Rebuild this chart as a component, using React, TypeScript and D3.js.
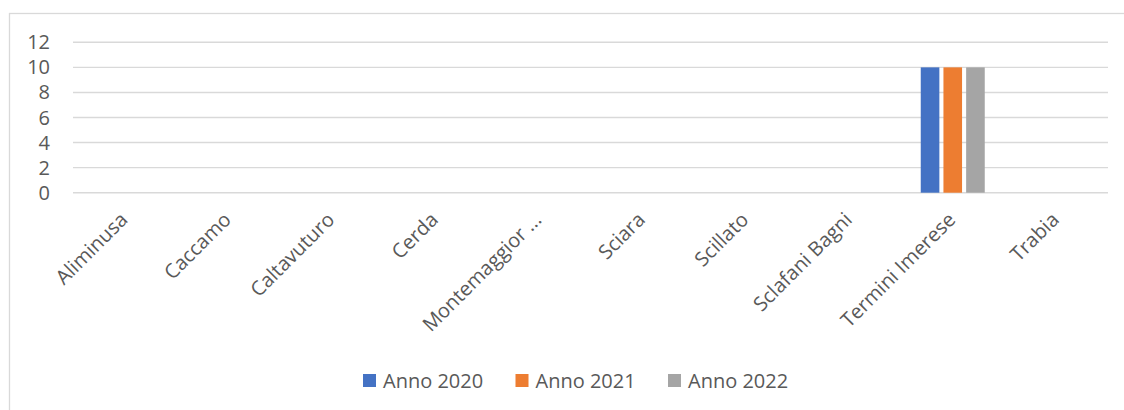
import React from "react";
import * as d3 from "d3";

const categories = [
  "Aliminusa",
  "Caccamo",
  "Caltavuturo",
  "Cerda",
  "Montemaggior ...",
  "Sciara",
  "Scillato",
  "Sclafani Bagni",
  "Termini Imerese",
  "Trabia",
];
const seriesNames = ["Anno 2020", "Anno 2021", "Anno 2022"];
const anno2020 = [0, 0, 0, 0, 0, 0, 0, 0, 10, 0];
const anno2021 = [0, 0, 0, 0, 0, 0, 0, 0, 10, 0];
const anno2022 = [0, 0, 0, 0, 0, 0, 0, 0, 10, 0];
const seriesValues = [anno2020, anno2021, anno2022];
const colors = ["#4472C4", "#ED7D31", "#A5A5A5"];
const yTicks = [0, 2, 4, 6, 8, 10, 12];

const W = 1124;
const H = 410;
const FONT = "'Open Sans', sans-serif";
const TEXT = "#595959";

export default function App() {
  const x = d3.scaleBand<string>().domain(categories).range([73, 1108]).padding(0);
  const y = d3.scaleLinear().domain([0, 12]).range([192.7, 42.3]);
  const groupW = 64;
  const inner = d3
    .scaleBand<string>()
    .domain(seriesNames)
    .range([-groupW / 2, groupW / 2])
    .paddingInner(0.18)
    .paddingOuter(0);

  const legendStart = 363;
  const legendStep = 152.5;

  return (
    <svg
      width={W}
      height={H}
      style={{ position: "absolute", left: 0, top: 0, background: "#fff" }}
      fontFamily={FONT}
    >
      <rect x={0} y={0} width={W} height={H} fill="#fff" />
      <rect x={9.5} y={13.5} width={W + 20} height={H + 20} fill="#fff" stroke="#d9d9d9" strokeWidth={1.3} />
      {yTicks.map((t) => (
        <g key={t}>
          <line x1={73} x2={1108} y1={y(t)} y2={y(t)} stroke="#d9d9d9" strokeWidth={1.4} />
          <text x={50} y={y(t)} dy="0.35em" textAnchor="end" fontSize={20} fill={TEXT}>
            {t}
          </text>
        </g>
      ))}
      {seriesValues.map((vals, si) =>
        vals.map((v, ci) => {
          const cx = (x(categories[ci]) as number) + x.bandwidth() / 2;
          const bx = cx + (inner(seriesNames[si]) as number);
          return v > 0 ? (
            <rect
              key={`${si}-${ci}`}
              x={bx}
              y={y(v)}
              width={inner.bandwidth()}
              height={y(0) - y(v)}
              fill={colors[si]}
            />
          ) : null;
        })
      )}
      {categories.map((c) => {
        const cx = (x(c) as number) + x.bandwidth() / 2;
        return (
          <text
            key={c}
            transform={`translate(${cx + 4},${221}) rotate(-45)`}
            textAnchor="end"
            fontSize={20}
            fill={TEXT}
          >
            {c}
          </text>
        );
      })}
      {seriesNames.map((s, i) => {
        const lx = legendStart + i * legendStep;
        return (
          <g key={s}>
            <rect x={lx} y={374} width={13} height={13} fill={colors[i]} />
            <text x={lx + 20} y={388} fontSize={20} fill={TEXT}>
              {s}
            </text>
          </g>
        );
      })}
    </svg>
  );
}
